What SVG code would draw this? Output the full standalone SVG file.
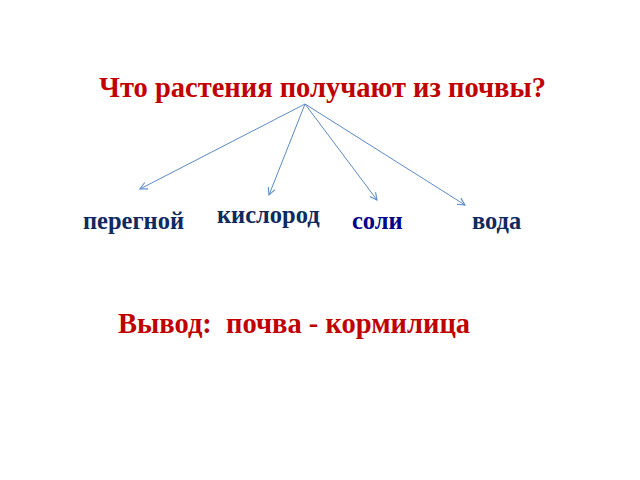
<svg xmlns="http://www.w3.org/2000/svg" width="640" height="480" viewBox="0 0 640 480">
<style>
text{font-family:"Liberation Serif","Times New Roman",serif;font-weight:bold}
.t{fill:#C00000;font-size:28.5px}
.l{fill:#0F2A5E;font-size:24.5px}
.b{fill:#00008B;font-size:24.5px}
.v{fill:#C00000;font-size:28.5px;white-space:pre}
.c{stroke:#5B8BC6;stroke-width:1;fill:none}
</style>
<defs>
<marker id="a" viewBox="0 0 10 10" refX="9" refY="5" markerWidth="9" markerHeight="9" orient="auto" markerUnits="userSpaceOnUse">
<path d="M1,1 L9,5 L1,9" fill="none" stroke="#5B8BC6" stroke-width="1.2"/>
</marker>
</defs>
<rect width="640" height="480" fill="#fff"/>
<g id="title"><text class="t" x="99" y="97">Что растения получают из почвы?</text></g>
<g id="connectors">
<line class="c" x1="305" y1="104" x2="140" y2="189" marker-end="url(#a)"/>
<line class="c" x1="305" y1="104" x2="269" y2="195" marker-end="url(#a)"/>
<line class="c" x1="305" y1="104" x2="377" y2="200" marker-end="url(#a)"/>
<line class="c" x1="305" y1="104" x2="465" y2="205" marker-end="url(#a)"/>
</g>
<g id="n1"><text class="l" x="83" y="229">перегной</text></g>
<g id="n2"><text class="l" x="217" y="223">кислород</text></g>
<g id="n3"><text class="b" x="352" y="229">соли</text></g>
<g id="n4"><text class="l" x="472" y="229">вода</text></g>
<g id="conclusion"><text class="v" x="118" y="333" xml:space="preserve">Вывод:  почва - кормилица</text></g>
</svg>
